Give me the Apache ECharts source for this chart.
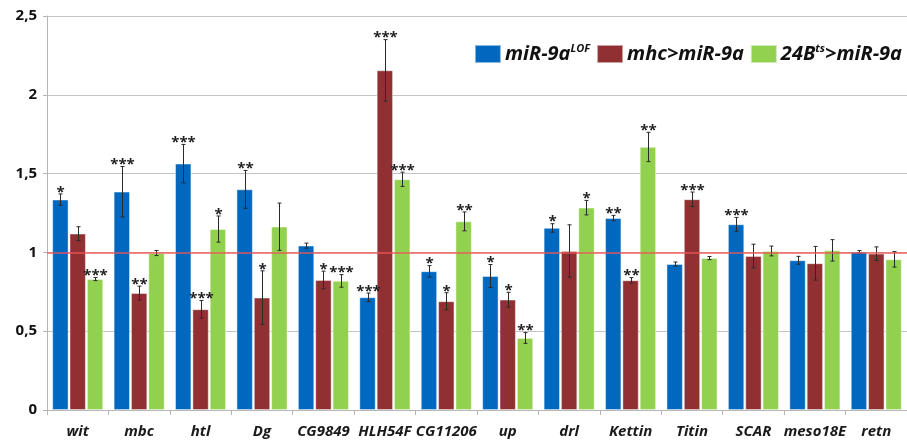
<!DOCTYPE html>
<html><head><meta charset="utf-8">
<script src="https://cdn.jsdelivr.net/npm/echarts@6/dist/echarts.min.js"></script>
<style>html,body{margin:0;padding:0;background:#fff}#c{width:907px;height:442px}</style>
</head><body><div id="c"></div>
<script>
const categories = ['wit','mbc','htl','Dg','CG9849','HLH54F','CG11206','up','drl','Kettin','Titin','SCAR','meso18E','retn'];
const seriesNames = ['miR-9aLOF','mhc>miR-9a','24Bts>miR-9a'];
const blueValues  = [1.335,1.385,1.563,1.400,1.043,0.715,0.880,0.850,1.155,1.218,0.926,1.178,0.950,1.004];
const redValues   = [1.119,0.742,0.639,0.713,0.825,2.155,0.690,0.700,1.009,0.823,1.337,0.977,0.931,0.992];
const greenValues = [0.831,0.996,1.148,1.163,0.819,1.464,1.197,0.457,1.284,1.669,0.964,1.009,1.013,0.956];
const blueErr  = [0.036,0.160,0.122,0.120,0.016,0.027,0.036,0.073,0.027,0.017,0.013,0.044,0.025,0.008];
const redErr   = [0.044,0.044,0.056,0.170,0.056,0.195,0.054,0.047,0.166,0.017,0.046,0.075,0.107,0.043];
const greenErr = [0.010,0.016,0.083,0.150,0.040,0.045,0.060,0.034,0.046,0.093,0.010,0.031,0.068,0.049];
const blueSig  = ['*','***','***','**','','***','*','*','*','**','','***','',''];
const redSig   = ['','**','***','*','*','***','*','*','','**','***','','',''];
const greenSig = ['***','','*','','***','***','**','**','*','**','','','',''];
const yTicks = [0, 0.5, 1, 1.5, 2, 2.5];

const colors = ['#0068BF','#903033','#92D050'];
const FONT = 'Open Sans';
const BAR_W = 16.2, STEP = 17.3;
const vals = [blueValues, redValues, greenValues];
const errs = [blueErr, redErr, greenErr];
const sigs = [blueSig, redSig, greenSig];

const chart = echarts.init(document.getElementById('c'));
const series = [];
for (let s = 0; s < 3; s++) {
  series.push({
    name: seriesNames[s], type: 'bar', data: vals[s], barWidth: BAR_W, barGap: '7%',
    itemStyle: { color: colors[s], borderColor: 'rgba(255,255,255,0.55)', borderWidth: 0.8 },
    z: 2
  });
}
for (let s = 0; s < 3; s++) {
  const off = (s - 1) * STEP;
  series.push({
    type: 'custom', name: 'err' + s, z: 5, silent: true,
    data: categories.map((c, i) => [i, vals[s][i], errs[s][i], sigs[s][i]]),
    renderItem: function (params, api) {
      const i = api.value(0), v = api.value(1), e = api.value(2);
      const sig = sigs[s][params.dataIndex];
      const top = api.coord([i, v + e]), bot = api.coord([i, v - e]);
      const x = Math.round(top[0] + off) + 0.5;
      const yt = top[1], yb = bot[1];
      const st = { stroke: '#2a2a2a', lineWidth: 1 };
      const ch = [
        { type: 'line', shape: { x1: x, y1: yt, x2: x, y2: yb }, style: st },
        { type: 'line', shape: { x1: x - 2, y1: yt, x2: x + 2, y2: yt }, style: st },
        { type: 'line', shape: { x1: x - 2, y1: yb, x2: x + 2, y2: yb }, style: st }
      ];
      if (sig) {
        ch.push({ type: 'text', style: { text: sig, x: x, y: yt + 6, align: 'center', verticalAlign: 'bottom',
          font: 'bold 15px "' + FONT + '"', fill: '#222' } });
      }
      return { type: 'group', children: ch };
    }
  });
}
series[0].markLine = {
  silent: true, symbol: 'none', z: 10,
  label: { show: false },
  lineStyle: { color: '#EE5555', width: 1.5, type: 'solid', opacity: 0.9 },
  data: [{ yAxis: 1 }]
};

chart.setOption({
  animation: false,
  backgroundColor: '#fff',
  grid: { left: 47, top: 16, bottom: 32, width: 870 },
  legend: {
    data: seriesNames, right: 0, top: 38, icon: 'rect', itemWidth: 26, itemHeight: 18, itemGap: 6,
    formatter: function (n) {
      if (n === 'miR-9aLOF') return '{t|miR-9a}{s|LOF}';
      if (n === '24Bts>miR-9a') return '{t|24B}{s|ts}{t|>miR-9a}';
      return '{t|' + n + '}';
    },
    textStyle: {
      padding: [0, 0, 0, -1],
      rich: {
        t: { fontFamily: FONT, fontSize: 20, fontWeight: 'bold', fontStyle: 'italic', color: '#111', lineHeight: 22 },
        s: { fontFamily: FONT, fontSize: 11, fontWeight: 'bold', fontStyle: 'italic', color: '#111', verticalAlign: 'top', lineHeight: 22, padding: [0, 0, 11, 0] }
      }
    }
  },
  xAxis: {
    type: 'category', data: categories,
    axisLine: { lineStyle: { color: '#b5b5b5', width: 1 } },
    axisTick: { show: true, length: 5, lineStyle: { color: '#b5b5b5' } },
    axisLabel: { fontFamily: FONT, fontSize: 15, fontWeight: 'bold', fontStyle: 'italic', color: '#1a1a1a', margin: 14, interval: 0 }
  },
  yAxis: {
    type: 'value', min: yTicks[0], max: yTicks[yTicks.length - 1], interval: 0.5,
    axisLine: { show: true, lineStyle: { color: '#b5b5b5' } },
    axisTick: { show: true, length: 4, lineStyle: { color: '#b5b5b5' } },
    splitLine: { lineStyle: { color: '#c4c4c4', width: 1 } },
    axisLabel: { fontFamily: FONT, fontSize: 15, fontWeight: 'bold', color: '#111', margin: 10,
      formatter: v => String(v).replace('.', ',') }
  },
  series: series
});
</script></body></html>
